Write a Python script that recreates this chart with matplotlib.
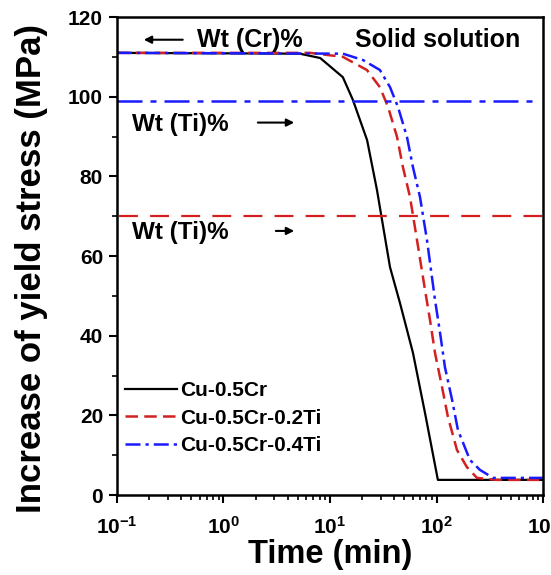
#!/usr/bin/env python3

import numpy as np
import matplotlib
matplotlib.use("Agg")
import matplotlib.pyplot as plt
from matplotlib.ticker import LogLocator, MultipleLocator, NullFormatter

plt.rcParams["font.family"] = ["Liberation Sans", "DejaVu Sans"]
plt.rcParams["font.weight"] = "bold"
plt.rcParams["mathtext.fontset"] = "custom"
plt.rcParams["mathtext.rm"] = "Liberation Sans:bold"
plt.rcParams["mathtext.it"] = "Liberation Sans:bold"
plt.rcParams["mathtext.bf"] = "Liberation Sans:bold"
plt.rcParams["mathtext.default"] = "regular"

# data: time (min) vs increase of yield stress (MPa)
t_cr = [0.1, 5.2, 8.1, 13.2, 16.4, 22.3, 27.6, 36.6, 45.4, 60.1, 78, 103, 1000]
s_cr = [111, 110.8, 109.7, 104.9, 99.2, 89.1, 76.6, 57.2, 48.2, 35.7, 20.6, 3.8, 3.8]

t_cr2 = [0.1, 6.5, 13.2, 22.2, 29.4, 35.1, 42.6, 48.4, 56.4, 65.6, 78, 86.9,
         96.8, 112.7, 128, 155.7, 193, 240, 370, 1000]
s_cr2 = [111, 111, 110, 106.7, 102.4, 97.4, 89.9, 82.3, 74.8, 64, 51.5, 43.9,
         35.7, 27.1, 19.6, 11.3, 7.0, 4.3, 3.8, 3.8]

t_cr4 = [0.1, 13.2, 20.4, 29.4, 36.6, 43.5, 52.8, 60.1, 70, 81.4, 96.8, 108,
         120, 140, 159, 206, 256, 340, 1000]
s_cr4 = [111, 110.8, 109.2, 106.7, 102.4, 97.4, 89.9, 82.3, 74.8, 64, 49, 40.7,
         32.1, 23.9, 16.3, 8.8, 6.3, 4.3, 4.3]

ti_04 = 99
ti_02 = 70

labels = ["Cu-0.5Cr", "Cu-0.5Cr-0.2Ti", "Cu-0.5Cr-0.4Ti"]


def main():
    fig = plt.figure(figsize=(5.51, 5.75), dpi=100)
    ax = fig.add_axes([0.2123, 0.1391, 0.7732, 0.8313])

    ax.plot(t_cr, s_cr, color="black", lw=1.6, label=labels[0])
    ax.plot(t_cr2, s_cr2, color="#d42020", lw=1.8, dashes=(5, 2.5), label=labels[1])
    ax.plot(t_cr4, s_cr4, color="#1a1aff", lw=1.8, dashes=(6, 2, 1.3, 2),
            label=labels[2])

    ax.plot([0.1, 900], [ti_04, ti_04], color="#1a1aff", lw=1.8,
            dashes=(10, 3.2, 2.4, 3.2))
    ax.plot([0.105, 1000], [ti_02, ti_02], color="#d42020", lw=1.6,
            dashes=(8.5, 5.5))

    ax.set_xscale("log")
    ax.set_xlim(0.1, 1000)
    ax.set_ylim(0, 120)
    ax.xaxis.set_major_locator(LogLocator(base=10, numticks=10))
    ax.xaxis.set_minor_locator(LogLocator(base=10, subs=np.arange(2, 10), numticks=20))
    ax.xaxis.set_minor_formatter(NullFormatter())
    ax.yaxis.set_major_locator(MultipleLocator(20))
    ax.yaxis.set_minor_locator(MultipleLocator(10))

    ax.tick_params(which="major", direction="out", length=6, width=1.5,
                   labelsize=15, top=False, right=False)
    ax.tick_params(axis="x", which="major", pad=9)
    ax.tick_params(axis="y", which="major", pad=4)
    ax.tick_params(which="minor", direction="out", length=3.5, width=1.2,
                   top=False, right=False)
    for lab in ax.get_xticklabels() + ax.get_yticklabels():
        lab.set_fontweight("bold")
    for sp in ax.spines.values():
        sp.set_linewidth(1.8)

    ax.set_xlabel("Time (min)", fontsize=23.5, fontweight="bold", labelpad=1)
    ax.set_ylabel("Increase of yield stress (MPa)", fontsize=25,
                  fontweight="bold")
    ax.yaxis.set_label_coords(-0.163, 0.473)

    # annotations
    ax.annotate("", xy=(0.168, 114.3), xytext=(0.44, 114.3),
                arrowprops=dict(arrowstyle="-|>", color="black", lw=1.5,
                                mutation_scale=11))
    ax.text(0.56, 114.3, "Wt (Cr)%", fontsize=18, fontweight="bold",
            va="center", ha="left")
    ax.text(17.2, 114.3, "Solid solution", fontsize=18, fontweight="bold",
            va="center", ha="left")

    for yv, x0 in [(93.0, 1.98), (65.8, 2.92)]:
        ax.text(0.138, yv, "Wt (Ti)%", fontsize=17.5, fontweight="bold",
                va="center", ha="left")
        ax.annotate("", xy=(4.9, yv + 0.5), xytext=(x0, yv + 0.5),
                    arrowprops=dict(arrowstyle="-|>", color="black", lw=1.5,
                                    mutation_scale=11))

    leg = ax.legend(loc="upper left", bbox_to_anchor=(0.019, 0.238), frameon=False,
                    fontsize=15, handlelength=2.5, handletextpad=0.12,
                    labelspacing=0.4, borderpad=0, borderaxespad=0)
    for txt in leg.get_texts():
        txt.set_fontweight("bold")

    fig.savefig("out.png", dpi=100)


if __name__ == "__main__":
    main()
